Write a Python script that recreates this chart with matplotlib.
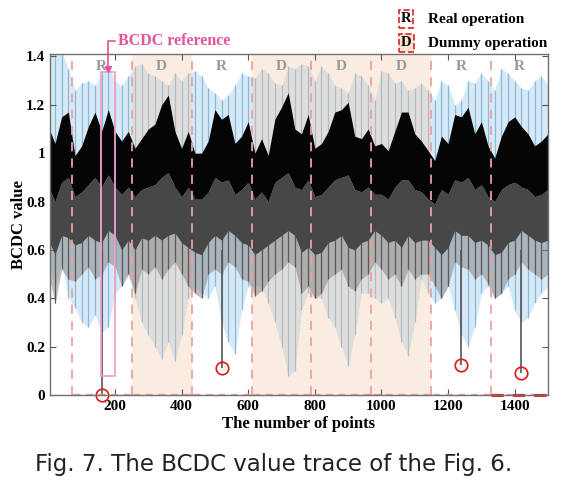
import numpy as np
import matplotlib.pyplot as plt

# 采样点 (每20个点读一次)
x_pts = np.arange(0, 1501, 20)

# 蓝色曲线上下包络
blue_hi = [1.42, 1.42, 1.42, 1.35, 1.26, 1.29, 1.30, 1.28, 1.33, 1.36, 1.30, 1.28, 1.32, 1.36, 1.37, 1.33,
           1.32, 1.30, 1.28, 1.33, 1.30, 1.33, 1.34, 1.32, 1.27, 1.25, 1.22, 1.24, 1.28, 1.33, 1.32, 1.31,
           1.35, 1.33, 1.29, 1.28, 1.36, 1.35, 1.37, 1.36, 1.30, 1.36, 1.33, 1.28, 1.27, 1.25, 1.33, 1.32,
           1.28, 1.22, 1.34, 1.33, 1.29, 1.30, 1.26, 1.27, 1.29, 1.26, 1.22, 1.30, 1.28, 1.20, 1.22, 1.30,
           1.29, 1.33, 1.30, 1.26, 1.35, 1.33, 1.30, 1.27, 1.26, 1.30, 1.32, 1.28]
blue_lo = [0.55, 0.45, 0.55, 0.40, 0.36, 0.30, 0.28, 0.33, 0.26, 0.28, 0.42, 0.45, 0.50, 0.40, 0.30, 0.25,
           0.20, 0.15, 0.22, 0.14, 0.25, 0.40, 0.45, 0.42, 0.40, 0.45, 0.30, 0.22, 0.17, 0.35, 0.45, 0.45,
           0.45, 0.38, 0.30, 0.20, 0.08, 0.10, 0.35, 0.42, 0.40, 0.40, 0.32, 0.28, 0.20, 0.12, 0.25, 0.42,
           0.42, 0.40, 0.38, 0.40, 0.32, 0.22, 0.16, 0.30, 0.48, 0.42, 0.38, 0.40, 0.45, 0.35, 0.25, 0.20,
           0.28, 0.42, 0.45, 0.40, 0.42, 0.45, 0.35, 0.30, 0.32, 0.38, 0.42, 0.45]

# 黑色/灰色曲线
black_hi = [1.11, 1.04, 1.15, 1.17, 0.99, 1.03, 1.11, 1.17, 1.09, 1.18, 1.09, 1.05, 1.09, 1.02, 1.06, 1.10,
            1.12, 1.20, 1.24, 1.09, 1.02, 1.09, 1.00, 1.00, 1.05, 1.18, 1.14, 1.16, 1.04, 1.07, 1.13, 1.00,
            1.06, 0.99, 1.14, 1.19, 1.25, 1.10, 1.08, 1.16, 1.02, 1.04, 1.09, 1.17, 1.18, 1.21, 1.07, 1.06,
            1.10, 1.03, 1.04, 1.01, 1.09, 1.17, 1.17, 1.08, 1.05, 1.01, 0.97, 1.07, 1.04, 1.16, 1.15, 1.19,
            1.08, 1.13, 1.03, 0.98, 1.07, 1.13, 1.15, 1.11, 1.08, 1.03, 1.05, 1.08]
core_lo = [0.86, 0.80, 0.88, 0.90, 0.82, 0.84, 0.87, 0.90, 0.86, 0.91, 0.86, 0.83, 0.86, 0.82, 0.85, 0.86,
           0.87, 0.90, 0.92, 0.86, 0.82, 0.86, 0.81, 0.81, 0.84, 0.90, 0.88, 0.89, 0.83, 0.85, 0.88, 0.81,
           0.84, 0.80, 0.88, 0.90, 0.92, 0.86, 0.85, 0.89, 0.82, 0.83, 0.86, 0.89, 0.90, 0.91, 0.85, 0.84,
           0.86, 0.83, 0.83, 0.81, 0.86, 0.89, 0.89, 0.85, 0.84, 0.81, 0.79, 0.85, 0.83, 0.89, 0.88, 0.90,
           0.85, 0.87, 0.82, 0.80, 0.85, 0.87, 0.88, 0.86, 0.85, 0.82, 0.83, 0.85]
mid_lo = [0.64, 0.58, 0.66, 0.65, 0.62, 0.63, 0.66, 0.64, 0.63, 0.68, 0.66, 0.60, 0.64, 0.60, 0.65, 0.64,
          0.66, 0.64, 0.66, 0.67, 0.63, 0.61, 0.59, 0.58, 0.63, 0.66, 0.64, 0.68, 0.66, 0.63, 0.62, 0.58,
          0.60, 0.62, 0.64, 0.66, 0.68, 0.66, 0.59, 0.61, 0.58, 0.59, 0.63, 0.64, 0.66, 0.61, 0.60, 0.63,
          0.64, 0.68, 0.66, 0.63, 0.64, 0.61, 0.66, 0.63, 0.64, 0.64, 0.61, 0.58, 0.61, 0.68, 0.66, 0.66,
          0.63, 0.64, 0.62, 0.58, 0.59, 0.63, 0.64, 0.68, 0.66, 0.64, 0.63, 0.64]
gray_lo = [0.50, 0.38, 0.52, 0.48, 0.47, 0.50, 0.53, 0.48, 0.50, 0.55, 0.53, 0.45, 0.50, 0.42, 0.52, 0.50,
           0.53, 0.48, 0.52, 0.55, 0.50, 0.45, 0.42, 0.40, 0.50, 0.52, 0.50, 0.55, 0.53, 0.48, 0.47, 0.41,
           0.43, 0.47, 0.50, 0.52, 0.55, 0.53, 0.42, 0.45, 0.40, 0.42, 0.48, 0.50, 0.52, 0.45, 0.43, 0.48,
           0.50, 0.55, 0.52, 0.48, 0.50, 0.45, 0.52, 0.48, 0.50, 0.50, 0.45, 0.40, 0.45, 0.55, 0.53, 0.52,
           0.48, 0.50, 0.46, 0.40, 0.42, 0.48, 0.50, 0.55, 0.52, 0.50, 0.48, 0.50]

# 红圈标记的尖峰 (真实操作的最低点)
spike_x = [160, 520, 1240, 1420]
spike_y = [0.0, 0.11, 0.125, 0.093]
spike_top = 0.6

# 分段 R/D
seg_edges = [70, 250, 430, 610, 790, 970, 1150, 1330, 1500]
seg_labels = ['R', 'D', 'R', 'D', 'D', 'D', 'R', 'R']

# BCDC reference 框
ref_box = [157, 200, 0.08, 1.337]

serif = 'Liberation Serif'
pink = '#e8509a'
dash_red = '#eda0a0'
orange = '#f3c6a4'

fig = plt.figure(figsize=(5.68, 4.87), dpi=100)
ax = fig.add_axes([50 / 568, 1 - 395 / 487, 498 / 568, 341 / 487])

# 蓝色曲线
ax.fill_between(x_pts, blue_lo, blue_hi, color='#a9d0ec', alpha=0.45, lw=0, zorder=1)
ax.vlines(x_pts, blue_lo, blue_hi, color='#86bbe0', lw=0.9, zorder=1)

# D 区域底色 (盖在蓝线上, 黑线下)
for i, lab in enumerate(seg_labels):
    if lab == 'D':
        ax.axvspan(seg_edges[i], seg_edges[i + 1], color=orange, alpha=0.32, lw=0, zorder=1.5)

# 灰黑曲线
ax.fill_between(x_pts, gray_lo, mid_lo, color='#808080', alpha=0.5, lw=0, zorder=2)
ax.vlines(x_pts, gray_lo, core_lo, color='#5a5a5a', lw=0.9, zorder=2)
ax.fill_between(x_pts, mid_lo, core_lo, color='#474747', lw=0, zorder=2)
ax.fill_between(x_pts, core_lo, black_hi, color='#050505', lw=0, zorder=3)

# 尖峰和红圈
ax.vlines(spike_x, spike_y, spike_top, color='#555555', lw=1.2, zorder=4)
ax.plot(spike_x, spike_y, 'o', ms=9, mfc='none', mec='#e01818', mew=1.2, zorder=6, clip_on=False)

# 分段标签和虚线
for i, lab in enumerate(seg_labels):
    x0, x1 = seg_edges[i], seg_edges[i + 1]
    ax.text((x0 + x1) / 2, 1.36, lab, color='#9a9a9a', fontsize=11, fontweight='bold',
            family=serif, ha='center', va='center', zorder=7)
    ax.plot([x0 + 4, x1 - 4], [0.003, 0.003], ls=(0, (5, 4)), color=dash_red, lw=1.0, zorder=5)
for xe in seg_edges[:-1]:
    ax.axvline(xe, color=dash_red, ls=(0, (5, 4)), lw=1.3, zorder=5)
ax.plot([seg_edges[-2], seg_edges[-1]], [0, 0], ls=(0, (4, 3)), color='#e82020', lw=2.2,
        zorder=8, clip_on=False)

# BCDC reference 框和箭头
bx0, bx1, by0, by1 = ref_box
ax.plot([bx0, bx1, bx1, bx0, bx0], [by0, by0, by1, by1, by0], color='#f0a0cc', lw=1.3, zorder=7)
xc = (bx0 + bx1) / 2
ax.plot([bx1, xc, xc], [1.462, 1.462, by1 + 0.01], color=pink, lw=1.2, zorder=8, clip_on=False)
ax.plot([xc], [by1 + 0.01], marker='v', ms=5, color=pink, zorder=8, clip_on=False)
ax.text(bx1 + 8, 1.462, 'BCDC reference', color=pink, fontsize=11.5, fontweight='bold',
        family=serif, ha='left', va='center')

ax.set_xlim(5, 1500)
ax.set_ylim(0, 1.41)
ax.set_xticks([200, 400, 600, 800, 1000, 1200, 1400])
ax.set_yticks([0, 0.2, 0.4, 0.6, 0.8, 1.0, 1.2, 1.4])
ax.set_yticklabels(['0', '0.2', '0.4', '0.6', '0.8', '1', '1.2', '1.4'])
ax.tick_params(direction='in', top=True, right=True, length=4, color='#555555')
for lb in ax.get_xticklabels() + ax.get_yticklabels():
    lb.set_family(serif)
    lb.set_fontweight('bold')
    lb.set_fontsize(11)
for sp in ax.spines.values():
    sp.set_color('#707070')
    sp.set_linewidth(1.0)
    sp.set_zorder(9)

ax.set_xlabel('The number of points', family=serif, fontweight='bold', fontsize=12, labelpad=2)
ax.set_ylabel('BCDC value', family=serif, fontweight='bold', fontsize=12, labelpad=-1)

# 图例
fig.text(406 / 568, 1 - 19 / 487, 'R', family=serif, fontweight='bold', fontsize=10.5,
         ha='center', va='center',
         bbox=dict(boxstyle='square,pad=0.15', fc='white', ec='#e02020', ls='--', lw=1.2))
fig.text(428 / 568, 1 - 19 / 487, 'Real operation', family=serif, fontweight='bold', fontsize=11,
         ha='left', va='center')
fig.text(406 / 568, 1 - 43 / 487, 'D', family=serif, fontweight='bold', fontsize=10.5,
         ha='center', va='center',
         bbox=dict(boxstyle='square,pad=0.15', fc='#fbe3d2', ec='#e02020', ls='--', lw=1.2))
fig.text(428 / 568, 1 - 43 / 487, 'Dummy operation', family=serif, fontweight='bold', fontsize=11,
         ha='left', va='center')

# 图注
fig.text(274 / 568, 1 - 465 / 487, 'Fig. 7. The BCDC value trace of the Fig. 6.',
         family='DejaVu Sans', fontsize=16.5, ha='center', va='center', color='#222222')

plt.savefig('out.png', dpi=100)
